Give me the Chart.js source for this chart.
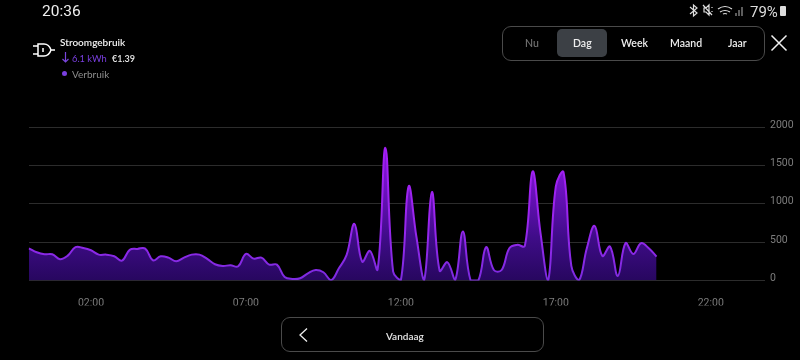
<!DOCTYPE html>
<html><head><meta charset="utf-8">
<style>
html,body{margin:0;padding:0;background:#000;width:800px;height:360px;overflow:hidden}
body{position:relative;font-family:Lato,sans-serif;color:#fff}
canvas{position:absolute;left:0;top:0}
.t{position:absolute;white-space:nowrap;line-height:1}
svg{position:absolute;overflow:visible}
.box{position:absolute;box-sizing:border-box;border:1px solid #4a4a4a}
</style></head><body>
<div id="wrap" style="position:absolute;left:0;top:0;width:800px;height:360px"><canvas id="c" width="800" height="360"></canvas></div>

<div class="t" style="left:42px;top:2px;font:15.5px Roboto,sans-serif;color:#eee">20:36</div>
<div class="t" style="left:750px;top:3px;font:15px Roboto,sans-serif;color:#ddd">79%</div>
<svg style="left:689px;top:4px" width="100" height="14" fill="none" stroke="#ddd" stroke-width="1.2">
  <path d="M1 3l7 6-3.500 3V1L8 4 1 10"/>
  <path d="M15 4h2l3-3v10l-3-3h-2zM14 1l9 10M23 3v1M23 7v1" />
  <path d="M29 5q7-5 14 0M31 8q5-3 10 0M34 10q2-1 4 0"/>
  <path d="M47 12v-3M50 12v-6M53 12v-9" stroke="#999"/>
  <rect x="91" y="2" width="6" height="10" fill="#ddd" stroke="none" rx="1"/>
</svg>

<svg style="left:33px;top:41px" width="22" height="18" fill="none" stroke="#fff" stroke-width="1.5">
  <path d="M0 5h5M0 13h5M5 3h6q5 0 7 6-2 6-7 6H5zM18 9h4M10 7v4"/>
</svg>
<div class="t" style="left:60px;top:36px;font:600 10px Lato,sans-serif;color:#f2f2f2">Stroomgebruik</div>
<svg style="left:62px;top:52px" width="8" height="11" fill="none" stroke="#7a45dd" stroke-width="1.2"><path d="M3.500 0v10M.5 7l3 3 3-3"/></svg>
<div class="t" style="left:72px;top:53px;font:9.300px Lato,sans-serif;color:#7a3fe0">6.1 kWh</div>
<div class="t" style="left:112px;top:53px;font:600 9px Lato,sans-serif;color:#e8e8e8">€1.39</div>
<div style="position:absolute;left:62px;top:71px;width:5px;height:5px;border-radius:50%;background:#7a3fe0"></div>
<div class="t" style="left:72px;top:68px;font:10px Lato,sans-serif;color:#8d8d8d">Verbruik</div>

<div class="box" style="left:502px;top:26px;width:263px;height:35px;border-radius:9px"></div>
<div style="position:absolute;left:557px;top:29px;width:50px;height:28px;border-radius:5px;background:#3c4045"></div>
<div class="t" style="left:525px;top:37px;font:600 10.500px Lato,sans-serif;color:#6d6d6d">Nu</div>
<div class="t" style="left:573px;top:37px;font:600 10.500px Lato,sans-serif;color:#eee">Dag</div>
<div class="t" style="left:621px;top:37px;font:600 10.500px Lato,sans-serif;color:#eee">Week</div>
<div class="t" style="left:670px;top:37px;font:600 10.500px Lato,sans-serif;color:#eee">Maand</div>
<div class="t" style="left:728px;top:37px;font:600 10.500px Lato,sans-serif;color:#eee">Jaar</div>
<svg style="left:771px;top:35px" width="16" height="16" fill="none" stroke="#f0f0f0" stroke-width="1.500"><path d="M.5.5l15 15M15.500.5l-15 15"/></svg>

<div class="box" style="left:281px;top:317px;width:263px;height:35px;border-radius:9px"></div>
<svg style="left:299px;top:328px" width="9" height="14" fill="none" stroke="#eee" stroke-width="1.300"><path d="M8 .5L1 7l7 6.500"/></svg>
<div class="t" style="left:386px;top:330px;font:600 10px Lato,sans-serif;color:#e4e4e4">Vandaag</div>

<script src="https://cdn.jsdelivr.net/npm/chart.js@4"></script>
<script>
const hours = [];
for (let h = 0; h < 24; h++) for (const m of ['00','15','30','45']) hours.push(String(h).padStart(2,'0') + ':' + m);
const tickHours = ['02:00','07:00','12:00','17:00','22:00'];
const yTicks = [0,500,1000,1500,2000];
const verbruik = [
 420,368,342,342,277,324,434,424,394,337,337,316,259,399,412,416,264,315,
 298,251,298,337,337,281,212,190,198,186,346,285,298,207,207,46,20,29,94,137,107,5,
 159,333,738,246,385,146,1728,115,5,1226,573,5,1153,128,238,5,638,
 0,0,434,137,137,420,464,451,1422,638,0,1226,1409,190,5,
 420,712,320,442,59,486,346,486,420,311
];
function vGrad(ctx, stops){
  const {chart} = ctx; const a = chart.chartArea; if(!a) return stops[0][1];
  const g = chart.ctx.createLinearGradient(0,a.top,0,a.bottom);
  stops.forEach(s=>g.addColorStop(s[0],s[1])); return g;
}
new Chart(document.getElementById('c'),{
  type:'line',
  data:{labels:hours,datasets:[{
    label:'Verbruik',data:verbruik,fill:'origin',
    tension:0.4,pointRadius:0,borderWidth:2,
    borderColor:c=>vGrad(c,[[0,'#a61cf5'],[0.6,'#9a25ee'],[1,'#7d2be0']]),
    backgroundColor:c=>vGrad(c,[[0,'#9d17f0'],[0.35,'#7412c8'],[0.72,'#3f0c88'],[1,'#27075f']])
  }]},
  options:{
    responsive:false,animation:false,
    layout:{padding:{left:29,right:0,top:127,bottom:54.5}},
    plugins:{legend:{display:false},tooltip:{enabled:false}},
    scales:{
      x:{type:'category',offset:false,grid:{display:false},border:{display:false},
         afterFit:s=>{s.height=25},
         ticks:{autoSkip:false,maxRotation:0,minRotation:0,padding:9,color:'#7d7d7d',
           font:{family:'Roboto',size:10.5},
           callback:function(v){const l=this.getLabelForValue(v);return tickHours.includes(l)?l:''}}},
      y:{position:'right',min:0,max:2000,grid:{color:'#2c2c2c',lineWidth:1,drawTicks:false},border:{display:false},
         afterFit:s=>{s.width=35},
         afterBuildTicks:s=>{s.ticks=yTicks.map(v=>({value:v}))},
         ticks:{padding:5,labelOffset:-2,color:'#7d7d7d',font:{family:'Roboto',size:10.5},callback:v=>String(v)}}
    }
  }
});
</script>
</body></html>
